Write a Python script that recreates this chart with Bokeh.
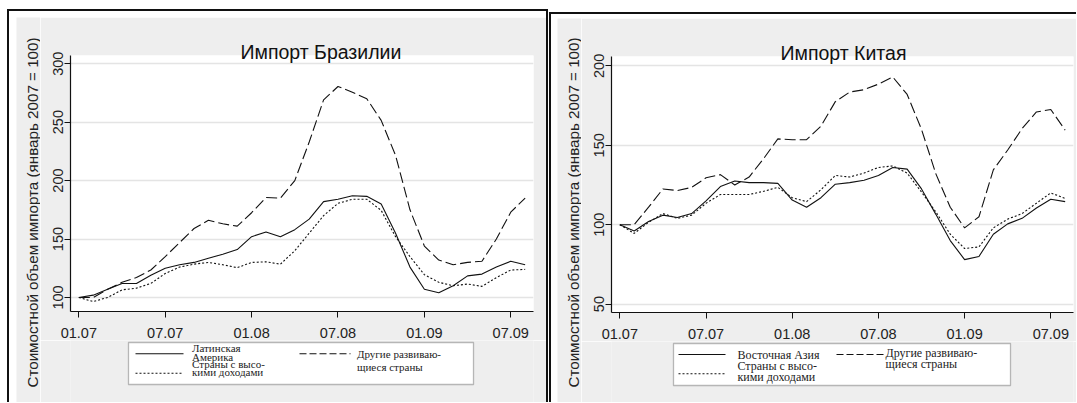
import math
from bokeh.plotting import figure
from bokeh.models import Range1d, FixedTicker, Label, BoxAnnotation, Arrow, Spacer, Title
from bokeh.layouts import row, column
from bokeh.embed import file_html
from bokeh.resources import INLINE

# ---------------- data ----------------
months = list(range(32))  # Jan 2007 .. Aug 2009
tick_positions = [0, 6, 12, 18, 24, 30]
tick_labels = ["01.07", "07.07", "01.08", "07.08", "01.09", "07.09"]

bra_title = "Импорт Бразилии"
bra_yticks = [100, 150, 200, 250, 300]
bra_latam = [100, 102, 107, 112, 112, 119, 125, 128, 130, 133.5, 137, 141, 152, 156, 152, 158,
             167, 182, 184, 187, 186.5, 180, 155, 126, 107, 104, 110, 118.5, 120, 126, 131, 128]
bra_high = [100, 96.5, 100, 106.5, 108, 112, 120.5, 126, 128.5, 130, 128, 125.5, 130, 130.5, 128.5, 140,
            155, 170, 180.5, 184, 184, 174.5, 152, 135, 119.5, 113, 110, 111.5, 109.5, 117, 123.5, 124]
bra_other = [100, 100, 107, 113, 117, 123.5, 135, 147, 159, 166, 163, 161, 172.5, 185.5, 185, 200,
             233, 269, 280.5, 275.5, 270, 251.5, 221.5, 175, 144, 132, 128, 130, 131, 150, 173, 185]

chn_title = "Импорт Китая"
chn_yticks = [50, 100, 150, 200]
chn_easia = [100, 96, 102, 106, 104.5, 107, 115, 124, 127.5, 126.5, 126.5, 126, 115.5, 111, 117, 125.5,
             126.5, 128, 131, 136, 135, 122.5, 106.5, 90, 78, 80, 94, 100.5, 104, 110.5, 116, 114.5]
chn_high = [100, 94.5, 101.5, 107, 104, 106, 113.5, 119, 119, 119, 121, 123.5, 117, 114.5, 122, 131,
            130, 132.5, 136, 137, 132.5, 120.5, 108, 94, 85, 86, 98, 103.5, 107, 113.5, 120, 116.5]
chn_other = [100, 100, 111, 122.5, 121.5, 123.5, 129.5, 131.5, 125, 130, 141.5, 154, 153.5, 153.5, 162, 177.5,
             183.5, 185, 188.5, 193, 182, 160, 132, 111, 98, 105, 134.5, 147, 160.5, 171, 172.5, 159.5]

ylabel_text = "Стоимостной объем импорта (январь 2007 = 100)"
bra_legend = {"solid": ["Латинская", "Америка"], "dotted": ["Страны с высо-", "кими доходами"],
              "dashed": ["Другие развиваю-", "щиеся страны"]}
chn_legend = {"solid": ["Восточная Азия"], "dotted": ["Страны с высо-", "кими доходами"],
              "dashed": ["Другие развиваю-", "щиеся страны"]}

# ---------------- style ----------------
GREY = "#eeeeee"
SANS = "Liberation Sans"
SERIF = "Liberation Serif"
INK = "#111111"
DASH = "11 4"
DOT = "2 2"


def blank_fig(W, H):
    f = figure(width=W, height=H, output_backend="svg", toolbar_location=None, title=None,
               x_axis_location=None, y_axis_location=None, min_border=0,
               x_range=Range1d(0, 1), y_range=Range1d(0, 1),
               border_fill_color=GREY, background_fill_color=GREY, outline_line_color=None)
    f.grid.visible = False
    return f


def ylabel_fig(W, H, cx, cy):
    f = blank_fig(W, H)
    f.add_layout(Label(x=cx, y=H - cy, x_units="screen", y_units="screen", text=ylabel_text,
                       angle=math.pi / 2, text_align="center", text_baseline="middle", text_font=SANS,
                       text_font_size="15.2px", text_color="#222222"))
    return f


def legend_fig(W, H, xshift, leg, g, fsize):
    # the frame of this figure is aligned (by the column layout) with the plot frame above,
    # so screen x is measured from that frame's left edge
    f = blank_fig(W, H)
    sx = lambda x: x - xshift
    sy = lambda y: H - y
    b = g["box"]
    f.add_layout(BoxAnnotation(left=sx(b[0]), right=sx(b[1]), top=sy(b[2]), bottom=sy(b[3]),
                               left_units="screen", right_units="screen", top_units="screen",
                               bottom_units="screen", fill_color="white", fill_alpha=1.0,
                               line_color="#222222", line_width=1.3))
    for key, dash in (("solid", "solid"), ("dotted", DOT), ("dashed", "7 3")):
        x0, x1, yy = g[key + "_line"]
        f.add_layout(Arrow(end=None, x_start=sx(x0), x_end=sx(x1), y_start=sy(yy), y_end=sy(yy),
                           start_units="screen", end_units="screen", line_color=INK,
                           line_width=1.1, line_dash=dash))
        tx, ty0, dy = g[key + "_text"]
        for i, t in enumerate(leg[key]):
            f.add_layout(Label(x=sx(tx), y=sy(ty0 + i * dy), x_units="screen", y_units="screen", text=t,
                               text_align="left", text_baseline="middle", text_font=SERIF,
                               text_font_size=fsize, text_color="#222222"))
    return f


def plot_fig(W, H, fl, fr, ft, fb, yr, yticks, s_solid, s_dot, s_dash, title, title_off):
    p = figure(width=W, height=H, output_backend="svg", toolbar_location=None,
               x_range=Range1d(-0.58, 31.58), y_range=Range1d(*yr),
               min_border_left=fl, min_border_right=W - fr, min_border_top=ft, min_border_bottom=H - fb,
               border_fill_color=GREY, background_fill_color="white", outline_line_color=None)
    p.title = Title(text=title, align="left", offset=title_off, standoff=-15, text_font=SANS,
                    text_font_size="19.5px", text_font_style="normal", text_color="#111111")
    p.xaxis.ticker = FixedTicker(ticks=tick_positions)
    p.xaxis.major_label_overrides = dict(zip(tick_positions, tick_labels))
    p.yaxis.ticker = FixedTicker(ticks=yticks)
    p.yaxis.major_label_orientation = "vertical"
    for ax in (p.xaxis[0], p.yaxis[0]):
        ax.axis_line_color = INK
        ax.axis_line_width = 1.2
        ax.major_tick_line_color = INK
        ax.major_tick_in = 0
        ax.major_tick_out = 6
        ax.minor_tick_in = 0
        ax.minor_tick_out = 0
        ax.major_label_text_font = SANS
        ax.major_label_text_font_size = "14.5px"
        ax.major_label_text_color = "#222222"
    p.xaxis.major_label_standoff = 10
    p.yaxis.major_label_standoff = 1
    p.xgrid.visible = False
    p.ygrid.grid_line_color = "#e4e4e4"
    p.ygrid.grid_line_width = 1.5

    p.line(months, s_dash, line_color=INK, line_width=1.1, line_dash=DASH)
    p.line(months, s_dot, line_color=INK, line_width=1.1, line_dash=DOT)
    p.line(months, s_solid, line_color=INK, line_width=1.1)
    return p


def sp(w, h, color=None):
    if color is None:
        return Spacer(width=w, height=h)
    return Spacer(width=w, height=h, styles={"background-color": color})


BLACK = "#111111"

# ---------------- left panel (Brazil) ----------------
L_plot = plot_fig(506, 323, 30, 493, 38, 295, (88.0, 307.0), bra_yticks,
                  bra_latam, bra_high, bra_other, bra_title, 170)
L_leg = legend_fig(506, 62, 30, bra_legend,
                   {"box": (88, 433, 2, 44),
                    "solid_line": (95, 143, 13.3), "solid_text": (151.5, 7.3, 8.7),
                    "dotted_line": (95, 143, 32.7), "dotted_text": (151.5, 23.3, 7.8),
                    "dashed_line": (259, 310, 13.3), "dashed_text": (316.5, 13, 13.7)}, "11px")
L_content = row(ylabel_fig(24, 385, 16, 195), column(L_plot, L_leg))
left = column(
    sp(548, 9),
    row(sp(7, 2), sp(541, 2, BLACK)),
    row(sp(7, 391), sp(2, 391, BLACK), sp(7, 391, "white"),
        column(sp(530, 6, "white"), L_content),
        sp(2, 391, BLACK)),
)

# ---------------- right panel (China) ----------------
R_plot = plot_fig(495, 323, 30, 492, 38, 294, (44.7, 205.9), chn_yticks,
                  chn_easia, chn_high, chn_other, chn_title, 169)
R_leg = legend_fig(495, 61, 30, chn_legend,
                   {"box": (92, 429, 2, 44),
                    "solid_line": (97, 144, 13), "solid_text": (156, 13, 11),
                    "dotted_line": (97, 144, 32.3), "dotted_text": (156, 24, 11.7),
                    "dashed_line": (255, 302, 13), "dashed_text": (304, 11.7, 10.6)}, "12px")
R_content = row(ylabel_fig(24, 384, 16, 194), column(R_plot, R_leg))
right = column(
    sp(528, 12),
    row(sp(1, 2), sp(527, 2, BLACK)),
    row(sp(1, 388, "white"), sp(2, 388, BLACK), sp(6, 388, "white"),
        column(sp(519, 4, "white"), R_content)),
)

layout = row(left, right)

open("out.html", "w").write(file_html(layout, INLINE, "Импорт"))
